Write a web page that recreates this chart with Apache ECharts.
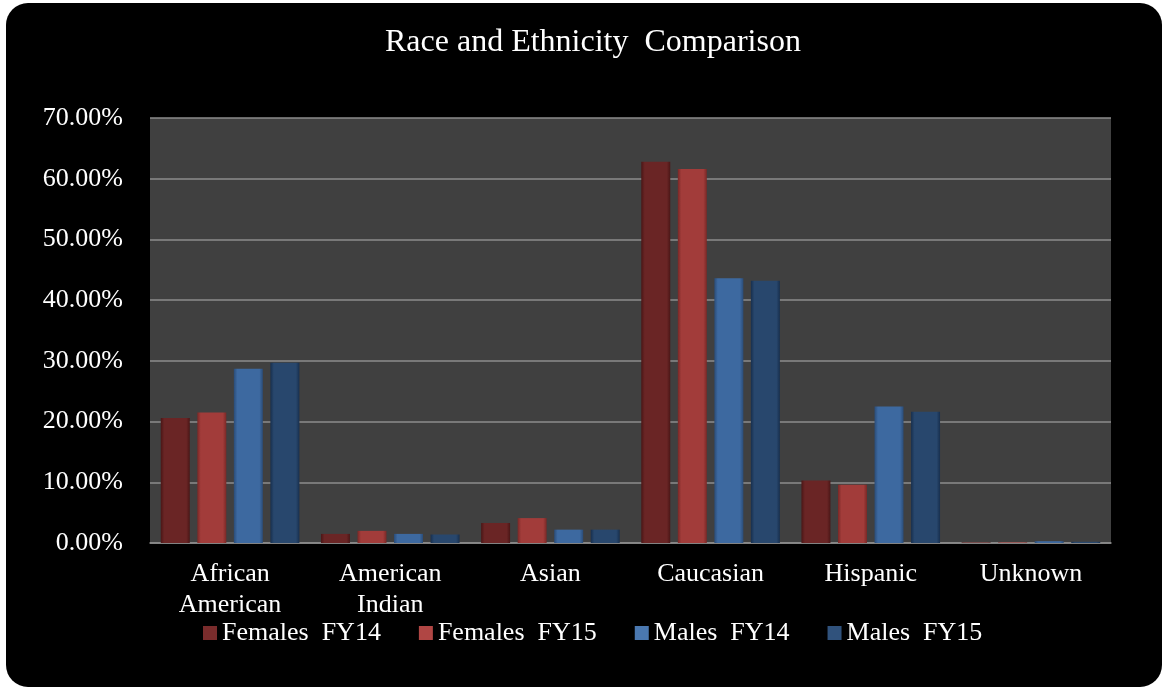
<!DOCTYPE html>
<html>
<head>
<meta charset="utf-8">
<script src="https://cdn.jsdelivr.net/npm/echarts@6/dist/echarts.min.js"></script>
<style>
  html, body { margin: 0; padding: 0; background: #ffffff; }
  #wrap { position: absolute; left: 6px; top: 3px; width: 1156px; height: 684px; background: #000000; border-radius: 22px; overflow: hidden; }
  #chart { width: 1156px; height: 684px; }
</style>
</head>
<body>
<div id="wrap"><div id="chart"></div></div>
<script>
const categories = ['African\nAmerican', 'American\nIndian', 'Asian', 'Caucasian', 'Hispanic', 'Unknown'];
const femalesFY14 = [20.6, 1.5, 3.3, 62.8, 10.3, 0.1];
const femalesFY15 = [21.5, 2.0, 4.1, 61.6, 9.6, 0.1];
const malesFY14 = [28.7, 1.5, 2.2, 43.6, 22.5, 0.3];
const malesFY15 = [29.7, 1.4, 2.2, 43.2, 21.6, 0.2];
const seriesNames = ['Females  FY14', 'Females  FY15', 'Males  FY14', 'Males  FY15'];
const yTicks = [0, 10, 20, 30, 40, 50, 60, 70];

const serif = "'Liberation Serif', 'Times New Roman', serif";

function grad(edge, mid) {
  return new echarts.graphic.LinearGradient(0, 0, 1, 0, [
    { offset: 0, color: edge },
    { offset: 0.12, color: mid },
    { offset: 0.88, color: mid },
    { offset: 1, color: edge }
  ]);
}
const colors = [
  grad('#4a1616', '#6a2525'),
  grad('#7a2826', '#a23c3a'),
  grad('#2a4c78', '#3d69a0'),
  grad('#172f4e', '#28476d')
];
const legendColors = ['#7a2c2c', '#b04644', '#4a78b0', '#30527c'];

const dataSets = [femalesFY14, femalesFY15, malesFY14, malesFY15];

const chart = echarts.init(document.getElementById('chart'), null, { renderer: 'canvas' });
chart.setOption({
  backgroundColor: 'transparent',
  animation: false,
  title: {
    text: 'Race and Ethnicity  Comparison',
    left: 379,
    top: 24,
    padding: 0,
    textStyle: { color: '#ffffff', fontFamily: serif, fontSize: 32, fontWeight: 'normal' }
  },
  legend: {
    left: 197,
    top: 617,
    padding: 0,
    itemWidth: 14,
    itemHeight: 14,
    itemGap: 38,
    icon: 'rect',
    textStyle: { color: '#ffffff', fontFamily: serif, fontSize: 26 },
    data: seriesNames.map((n, i) => ({ name: n, itemStyle: { color: legendColors[i] } }))
  },
  grid: {
    left: 144,
    right: 51,
    top: 115,
    bottom: 144,
    show: true,
    backgroundColor: '#404040',
    borderWidth: 0,
    containLabel: false
  },
  xAxis: {
    type: 'category',
    data: categories,
    axisLine: { show: true, lineStyle: { color: '#8c8c8c', width: 1.5 } },
    axisTick: { show: false },
    axisLabel: {
      color: '#ffffff', fontFamily: serif, fontSize: 26, lineHeight: 31, margin: 16, interval: 0
    }
  },
  yAxis: {
    type: 'value',
    min: 0,
    max: 70,
    interval: 10,
    axisLine: { show: false },
    axisTick: { show: false },
    splitLine: { show: true, lineStyle: { color: '#8c8c8c', width: 1.5 } },
    axisLabel: {
      color: '#ffffff', fontFamily: serif, fontSize: 26, margin: 27,
      formatter: v => v.toFixed(2) + '%'
    }
  },
  series: seriesNames.map((n, i) => ({
    name: n,
    type: 'bar',
    data: dataSets[i],
    barWidth: 29,
    barGap: '26%',
    itemStyle: { color: colors[i] }
  }))
});
</script>
</body>
</html>
